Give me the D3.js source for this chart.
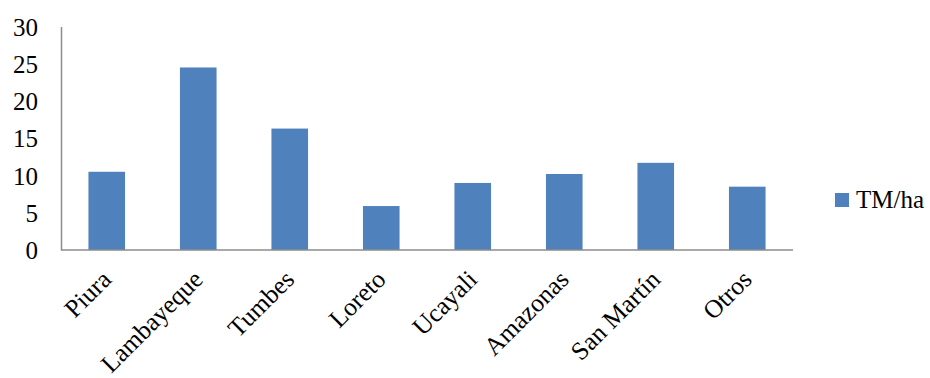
<!DOCTYPE html>
<html>
<head>
<meta charset="utf-8">
<script src="https://cdn.jsdelivr.net/npm/d3@7"></script>
<style>
  body { margin: 0; background: #fff; }
  text { font-family: "Liberation Serif", "Times New Roman", serif; fill: #000; }
</style>
</head>
<body>
<svg width="930" height="378"></svg>
<script>
const regions = ["Piura", "Lambayeque", "Tumbes", "Loreto", "Ucayali", "Amazonas", "San Martín", "Otros"];
const tmha = [10.5, 24.5, 16.3, 5.9, 9.0, 10.2, 11.7, 8.5];
const yTicks = [0, 5, 10, 15, 20, 25, 30];
const seriesName = "TM/ha";

const svg = d3.select("svg");
const barColor = "#4f81bd",
    axisColor = "#8c8c8c";

const x = d3.scaleBand()
    .domain(regions)
    .range([61, 793])
    .paddingInner(0.6)
    .paddingOuter(0.3);

const y = d3.scaleLinear()
    .domain([0, 30])
    .range([250, 26.5]);

// bars
svg.append("g")
    .selectAll("rect")
    .data(regions)
    .enter().append("rect")
    .attr("x", function(d) { return x(d); })
    .attr("y", function(d, i) { return y(tmha[i]); })
    .attr("width", x.bandwidth())
    .attr("height", function(d, i) { return y(0) - y(tmha[i]); })
    .attr("fill", barColor);

// y axis
const yAxis = svg.append("g")
    .attr("transform", "translate(61,0)")
    .call(d3.axisLeft(y).tickValues(yTicks).tickSize(0).tickPadding(23));
yAxis.attr("font-family", "Liberation Serif, serif");
yAxis.select(".domain").attr("stroke", axisColor).attr("stroke-width", 1.5);
yAxis.selectAll("text")
    .style("font-family", "Liberation Serif, serif")
    .style("font-size", "25px")
    .attr("dy", "0.34em");

// x axis
const xAxis = svg.append("g")
    .attr("transform", "translate(0,250)")
    .call(d3.axisBottom(x).tickSize(0).tickSizeOuter(0));
xAxis.attr("font-family", "Liberation Serif, serif");
xAxis.select(".domain")
    .attr("d", "M61,0H793")
    .attr("stroke", axisColor).attr("stroke-width", 1.5);
xAxis.selectAll("text")
    .style("font-family", "Liberation Serif, serif")
    .style("font-size", "25.5px")
    .attr("text-anchor", "end")
    .attr("dy", 0)
    .attr("y", 0)
    .attr("transform", "translate(6,31) rotate(-45)");

// legend
const legend = svg.append("g").attr("transform", "translate(835,193)");
legend.append("rect")
    .attr("width", 14).attr("height", 14)
    .attr("fill", barColor);
legend.append("text")
    .attr("x", 21).attr("y", 14.5)
    .style("font-size", "25px")
    .text(seriesName);
</script>
</body>
</html>
